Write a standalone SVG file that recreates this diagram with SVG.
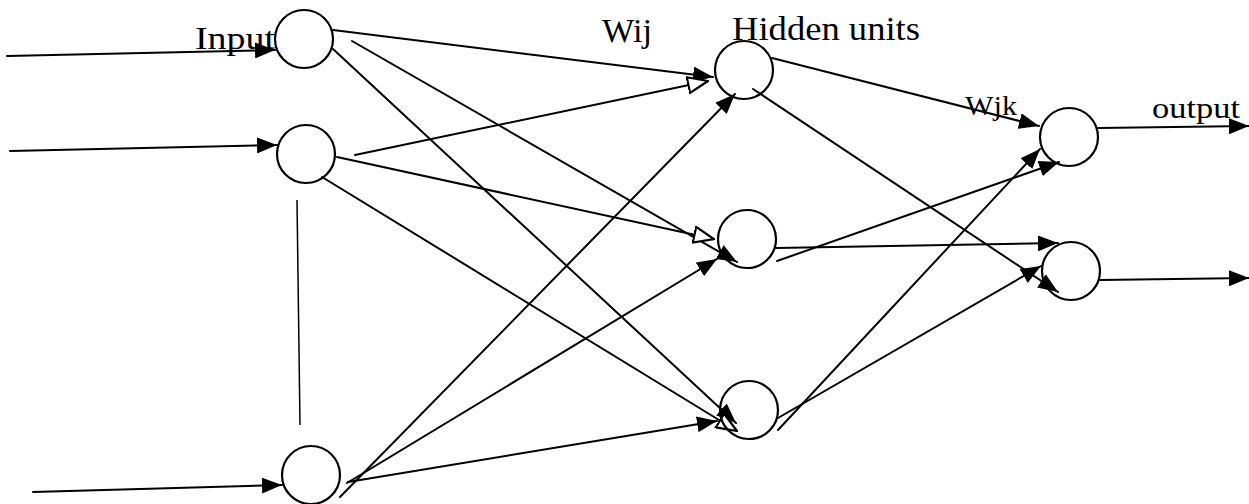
<svg xmlns="http://www.w3.org/2000/svg" width="1249" height="504" viewBox="0 0 1249 504">
  <style>
    .unit { fill: none; stroke: #000; stroke-width: 2.2; }
    .wire { stroke: #000; stroke-width: 2; fill: none; stroke-linecap: round; }
    .wire.solid { marker-end: url(#tip); }
    .wire.open { marker-end: url(#tipOpen); }
    .lbl { font-family: "Liberation Serif", "Times New Roman", serif; fill: #000; }
  </style>
  <defs>
    <marker id="tip" markerUnits="userSpaceOnUse" viewBox="0 0 20 16" refX="20" refY="8" markerWidth="20" markerHeight="16" orient="auto">
      <path d="M0,0 L20,8 L0,16 z" fill="#000"/>
    </marker>
    <marker id="tipOpen" markerUnits="userSpaceOnUse" viewBox="-1 -1 22 18" refX="20" refY="8" markerWidth="22" markerHeight="18" orient="auto">
      <path d="M0,0 L20,8 L0,16 z" fill="#fff" stroke="#000" stroke-width="2.2"/>
    </marker>
  </defs>

  <rect width="1249" height="504" fill="#fff"/>

  <!-- connectors -->
  <g id="connectors">
    <!-- external inputs -->
    <line class="wire solid" x1="7" y1="56" x2="275" y2="50"/>
    <line class="wire solid" x1="10" y1="151" x2="277" y2="145"/>
    <line class="wire solid" x1="33" y1="492" x2="282" y2="485"/>
    <!-- ellipsis between input units -->
    <line x1="297" y1="200" x2="300" y2="425" stroke="#000" stroke-width="1.5"/>
    <!-- input layer to hidden layer -->
    <line class="wire solid" x1="333" y1="30" x2="713" y2="77"/>
    <line class="wire solid" x1="352" y1="41" x2="737" y2="262"/>
    <line class="wire solid" x1="333" y1="49" x2="736" y2="423"/>
    <line class="wire open" x1="355" y1="155" x2="708" y2="81"/>
    <line class="wire open" x1="337" y1="157" x2="714" y2="239"/>
    <line class="wire open" x1="322" y1="177" x2="737" y2="431"/>
    <line class="wire solid" x1="340" y1="497" x2="735" y2="94"/>
    <line class="wire solid" x1="347" y1="483" x2="717" y2="259"/>
    <line class="wire solid" x1="348" y1="482" x2="717" y2="421"/>
    <!-- hidden layer to output layer -->
    <line class="wire solid" x1="772" y1="58" x2="1039" y2="126"/>
    <line class="wire solid" x1="753" y1="89" x2="1058" y2="292"/>
    <line class="wire solid" x1="777" y1="261" x2="1059" y2="162"/>
    <line class="wire solid" x1="776" y1="248" x2="1058" y2="243"/>
    <line class="wire solid" x1="778" y1="430" x2="1040" y2="149"/>
    <line class="wire solid" x1="778" y1="418" x2="1041" y2="266"/>
    <!-- external outputs -->
    <line class="wire solid" x1="1098" y1="128" x2="1249" y2="126"/>
    <line class="wire solid" x1="1100" y1="280" x2="1249" y2="278"/>
  </g>

  <!-- input units -->
  <g id="in1"><circle class="unit" cx="304" cy="39" r="29"/></g>
  <g id="in2"><circle class="unit" cx="306" cy="154" r="29"/></g>
  <g id="in3"><circle class="unit" cx="311" cy="475" r="29"/></g>

  <!-- hidden units -->
  <g id="hid1"><circle class="unit" cx="744" cy="70" r="29"/></g>
  <g id="hid2"><circle class="unit" cx="747" cy="239" r="29"/></g>
  <g id="hid3"><circle class="unit" cx="749" cy="410" r="29"/></g>

  <!-- output units -->
  <g id="out1"><circle class="unit" cx="1069" cy="137" r="29"/></g>
  <g id="out2"><circle class="unit" cx="1071" cy="271" r="29"/></g>

  <!-- labels -->
  <g id="labels">
    <text class="lbl" x="195" y="49" font-size="32" textLength="80" lengthAdjust="spacingAndGlyphs">Input</text>
    <text class="lbl" x="602" y="42" font-size="33" textLength="50" lengthAdjust="spacingAndGlyphs">Wij</text>
    <text class="lbl" x="732" y="40" font-size="33" textLength="188" lengthAdjust="spacingAndGlyphs">Hidden units</text>
    <text class="lbl" x="965" y="115" font-size="28" textLength="52" lengthAdjust="spacingAndGlyphs">Wjk</text>
    <text class="lbl" x="1152" y="118" font-size="30" textLength="88" lengthAdjust="spacingAndGlyphs">output</text>
  </g>
</svg>
